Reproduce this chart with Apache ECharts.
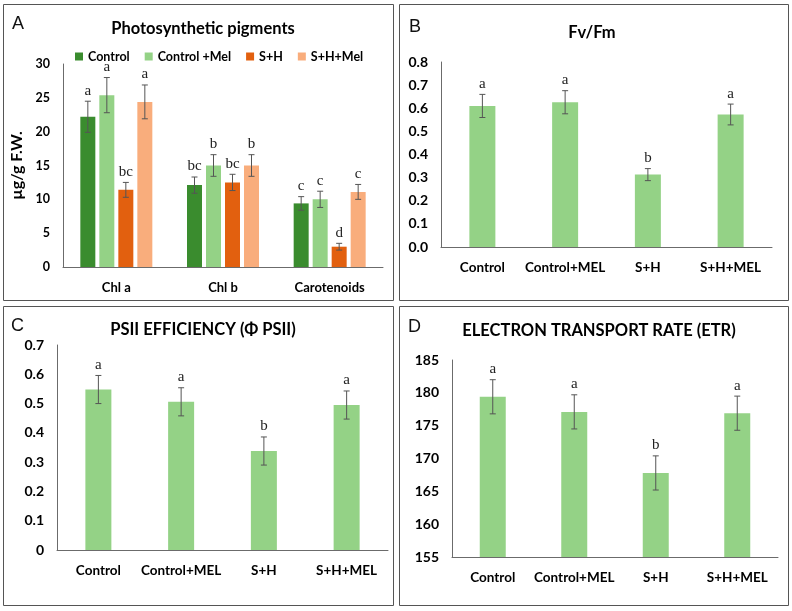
<!DOCTYPE html>
<html>
<head>
<meta charset="utf-8">
<script src="https://cdn.jsdelivr.net/npm/echarts@6/dist/echarts.min.js"></script>
<style>
  html, body { margin: 0; padding: 0; background: #fff; }
  #main { width: 792px; height: 611px; }
</style>
</head>
<body>
<div id="main"></div>
<script>
// panel A - pigments
const pigCats = ['Chl a', 'Chl b', 'Carotenoids'];
const pigNames = ['Control', 'Control +Mel', 'S+H', 'S+H+Mel'];
const pigControl = [22.2, 12.1, 9.4];
const pigControlMel = [25.4, 15.0, 10.0];
const pigSH = [11.4, 12.5, 3.0];
const pigSHMel = [24.4, 15.0, 11.1];
const pigErrControl = [2.3, 1.2, 1.0];
const pigErrControlMel = [2.6, 1.6, 1.2];
const pigErrSH = [1.1, 1.2, 0.5];
const pigErrSHMel = [2.5, 1.6, 1.1];
const pigLetControl = ['a', 'bc', 'c'];
const pigLetControlMel = ['a', 'b', 'c'];
const pigLetSH = ['bc', 'bc', 'd'];
const pigLetSHMel = ['a', 'b', 'c'];

// panels B-D
const treatCats = ['Control', 'Control+MEL', 'S+H', 'S+H+MEL'];
const fvfm = [0.61, 0.626, 0.313, 0.573];
const fvfmErr = [0.05, 0.05, 0.026, 0.045];
const fvfmLet = ['a', 'a', 'b', 'a'];
const psii = [0.548, 0.506, 0.338, 0.495];
const psiiErr = [0.048, 0.048, 0.048, 0.048];
const psiiLet = ['a', 'a', 'b', 'a'];
const etr = [179.4, 177.1, 167.8, 176.9];
const etrErr = [2.6, 2.6, 2.6, 2.6];
const etrLet = ['a', 'a', 'b', 'a'];

const pigColors = ['#3a8c2e', '#94d286', '#e2600f', '#f9ad7c'];
const lightGreen = '#94d286';
const axisColor = '#6b6b6b';
const sans = 'Lato, "Open Sans", sans-serif';
const serif = '"Liberation Serif", "DejaVu Serif", serif';

const pigBarW = 15, pigGap = 4;

function toPts(vals, errs) {
  return vals.map((v, i) => [i, v, errs[i]]);
}

function errRender(letters, offset) {
  return function (params, api) {
    const x = api.value(0), v = api.value(1), e = api.value(2);
    const top = api.coord([x, v + e]);
    const bot = api.coord([x, v - e]);
    const cx = api.coord([x, v])[0] + offset;
    const st = { stroke: '#555', lineWidth: 1 };
    return {
      type: 'group',
      children: [
        { type: 'line', shape: { x1: cx, y1: top[1], x2: cx, y2: bot[1] }, style: st },
        { type: 'line', shape: { x1: cx - 3, y1: top[1], x2: cx + 3, y2: top[1] }, style: st },
        { type: 'line', shape: { x1: cx - 3, y1: bot[1], x2: cx + 3, y2: bot[1] }, style: st },
        {
          type: 'text',
          style: {
            x: cx, y: top[1] - 3, text: letters[params.dataIndex],
            align: 'center', verticalAlign: 'bottom',
            font: '15px ' + serif, fill: '#222'
          }
        }
      ]
    };
  };
}

function catAxis(gi, cats, fs) {
  return {
    type: 'category', gridIndex: gi, data: cats,
    axisLine: { lineStyle: { color: axisColor, width: 1 } },
    axisTick: { show: false },
    axisLabel: { interval: 0, color: '#000', fontFamily: sans, fontWeight: 'bold', fontSize: fs, margin: 14 }
  };
}

function valAxis(gi, min, max, interval, fs, fmt) {
  return {
    type: 'value', gridIndex: gi, min: min, max: max, interval: interval,
    axisLine: { show: true, lineStyle: { color: axisColor, width: 1 } },
    axisTick: { show: false },
    splitLine: { show: false },
    axisLabel: { color: '#000', fontFamily: sans, fontWeight: 'bold', fontSize: fs, margin: 13, formatter: fmt }
  };
}

const pigVals = [pigControl, pigControlMel, pigSH, pigSHMel];
const pigErrs = [pigErrControl, pigErrControlMel, pigErrSH, pigErrSHMel];
const pigLets = [pigLetControl, pigLetControlMel, pigLetSH, pigLetSHMel];

const series = [];
pigNames.forEach((name, i) => {
  series.push({
    name: name, type: 'bar', xAxisIndex: 0, yAxisIndex: 0,
    data: pigVals[i], barWidth: pigBarW, barGap: (pigGap / pigBarW * 100) + '%',
    itemStyle: { color: pigColors[i] }
  });
});
pigNames.forEach((name, i) => {
  series.push({
    type: 'custom', xAxisIndex: 0, yAxisIndex: 0, z: 5,
    data: toPts(pigVals[i], pigErrs[i]),
    renderItem: errRender(pigLets[i], (i - 1.5) * (pigBarW + pigGap)),
    encode: { x: 0, y: 1 }, silent: true
  });
});

[[fvfm, fvfmErr, fvfmLet], [psii, psiiErr, psiiLet], [etr, etrErr, etrLet]].forEach((d, k) => {
  const gi = k + 1;
  series.push({
    type: 'bar', xAxisIndex: gi, yAxisIndex: gi, data: d[0], barWidth: 26,
    itemStyle: { color: lightGreen }
  });
  series.push({
    type: 'custom', xAxisIndex: gi, yAxisIndex: gi, z: 5,
    data: toPts(d[0], d[1]), renderItem: errRender(d[2], 0),
    encode: { x: 0, y: 1 }, silent: true
  });
});

function box(x, y, w, h) {
  return { type: 'rect', shape: { x: x + 0.5, y: y + 0.5, width: w, height: h }, style: { fill: null, stroke: '#555', lineWidth: 1 }, silent: true };
}
function panelLetter(t, x, y) {
  return { type: 'text', style: { x: x, y: y, text: t, font: '18px "Liberation Sans", Arial, sans-serif', fill: '#111', verticalAlign: 'middle' }, silent: true };
}

const titleStyle = { color: '#000', fontFamily: sans, fontWeight: 'bold', fontSize: 16.5 };

const chart = echarts.init(document.getElementById('main'));
chart.setOption({
  animation: false,
  backgroundColor: '#fff',
  title: [
    { text: 'Photosynthetic pigments', left: 198, top: 15, textAlign: 'center', textStyle: titleStyle },
    { text: 'Fv/Fm', left: 587, top: 19, textAlign: 'center', textStyle: titleStyle },
    { text: 'PSII EFFICIENCY (Φ PSII)', left: 198, top: 316, textAlign: 'center', textStyle: titleStyle },
    { text: 'ELECTRON TRANSPORT RATE (ETR)', left: 594, top: 317, textAlign: 'center', textStyle: titleStyle }
  ],
  legend: {
    data: pigNames, left: 70, top: 45, itemWidth: 8, itemHeight: 8, itemGap: 15,
    icon: 'rect',
    textStyle: { color: '#000', fontFamily: sans, fontWeight: 'bold', fontSize: 12.5 }
  },
  grid: [
    { left: 63, top: 64, width: 320, height: 203 },
    { left: 441, top: 62, width: 331, height: 185 },
    { left: 57, top: 345, width: 331, height: 205 },
    { left: 452, top: 360, width: 326, height: 197 }
  ],
  xAxis: [catAxis(0, pigCats, 13), catAxis(1, treatCats, 13.5), catAxis(2, treatCats, 13.5), catAxis(3, treatCats, 13.5)],
  yAxis: [
    Object.assign(valAxis(0, 0, 30, 5, 12.5), {
      name: 'µg/g F.W.', nameLocation: 'middle', nameGap: 38,
      nameTextStyle: { color: '#000', fontFamily: sans, fontWeight: 'bold', fontSize: 16 }
    }),
    valAxis(1, 0, 0.8, 0.1, 14, v => v.toFixed(1)),
    valAxis(2, 0, 0.7, 0.1, 14, v => v === 0 ? '0' : v.toFixed(1)),
    valAxis(3, 155, 185, 5, 14)
  ],
  series: series,
  graphic: [
    box(3, 4, 390, 296), box(399, 4, 389, 296),
    box(3, 306, 390, 299), box(399, 306, 389, 299),
    panelLetter('A', 12, 24), panelLetter('B', 409, 27),
    panelLetter('C', 11, 326), panelLetter('D', 408, 327)
  ]
});
</script>
</body>
</html>
